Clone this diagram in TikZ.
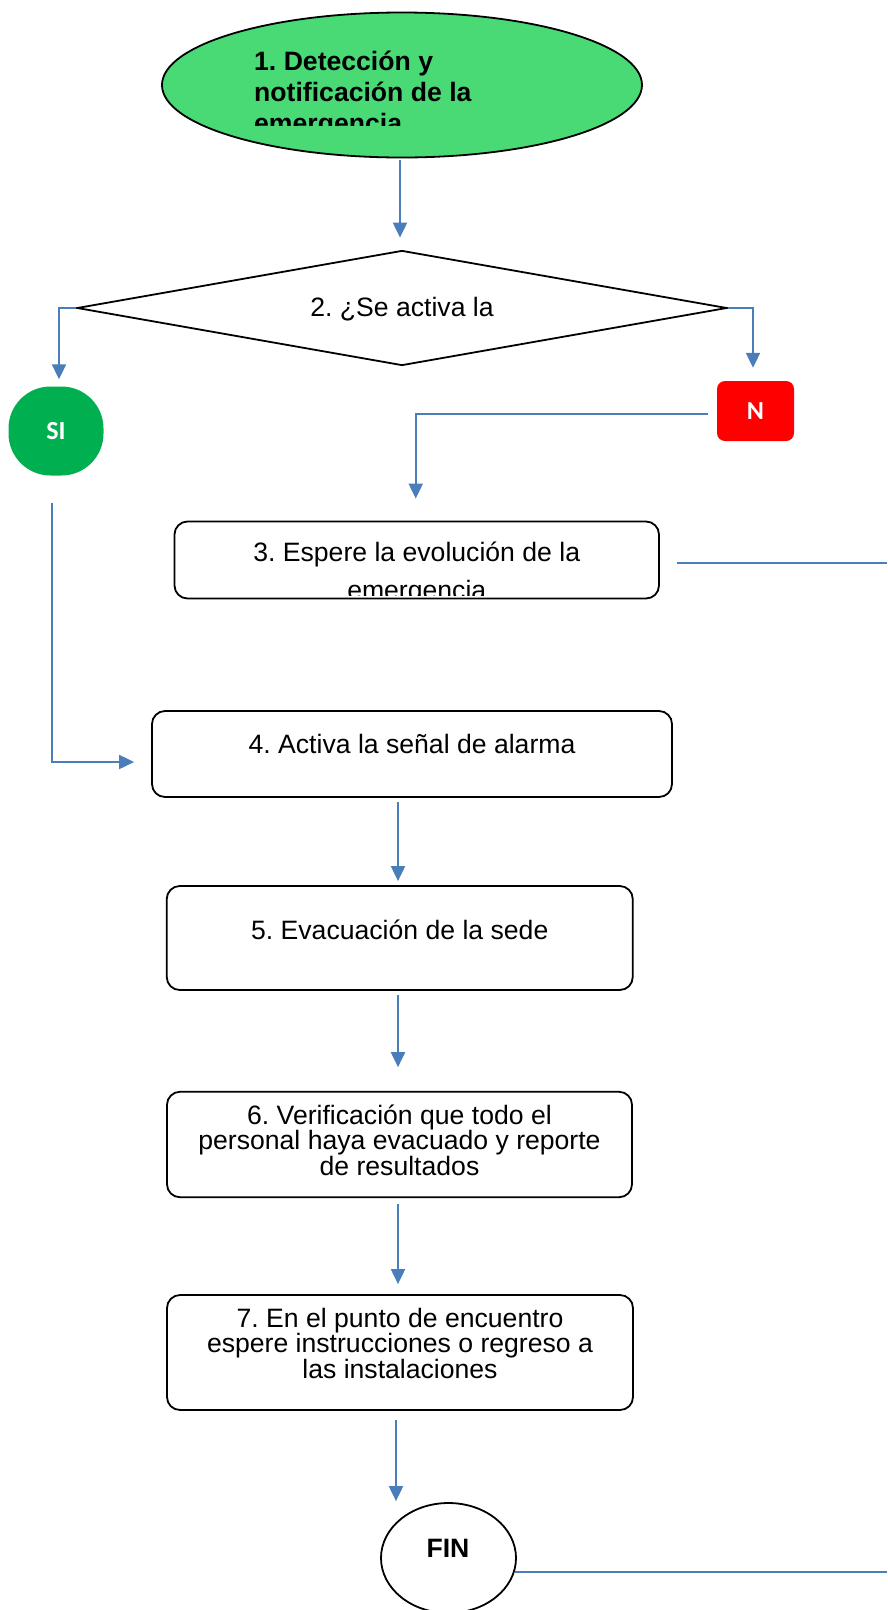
\documentclass[tikz,border=0pt]{standalone}
\usepackage{fontspec}
\setmainfont{Liberation Sans}
\newfontfamily\calib{Carlito}
\usetikzlibrary{shapes.geometric,arrows.meta,calc}
\definecolor{conncol}{RGB}{74,126,187}
\definecolor{startgreen}{RGB}{73,218,117}
\definecolor{sigreen}{RGB}{0,176,80}
\definecolor{nred}{RGB}{255,0,0}
\frenchspacing
\tikzset{
  box/.style={draw=black, line width=1.8pt, rounded corners=13pt, inner sep=0pt},
  conn/.style={draw=conncol, line width=2pt, -{Triangle[length=15pt,width=14pt]}},
  plainline/.style={draw=conncol, line width=2pt},
  txt/.style={inner sep=0pt, font=\fontsize{26.6pt}{23.3pt}\selectfont, align=center},
  badge/.style={inner sep=0pt, text=white, font=\calib\bfseries\fontsize{26pt}{28pt}\selectfont},
}
\begin{document}
\begin{tikzpicture}[x=1pt,y=-1pt]
\useasboundingbox (0,0) rectangle (887,1610);
% 1. start ellipse
\node[ellipse, draw=black, line width=1.8pt, fill=startgreen, minimum width=480pt, minimum height=145pt, inner sep=0pt] (e1) at (402,85) {};
\begin{scope}
\clip (240,30) rectangle (500,125);
\node[inner sep=0pt, anchor=base west, align=left, font=\bfseries\fontsize{26.6pt}{31pt}\selectfont] (t1) at (254,132) {1. Detección y\\notificación de la\\emergencia};
\end{scope}
% 2. decision
\node[diamond, draw=black, line width=1.8pt, minimum width=650pt, minimum height=115pt, inner sep=0pt, aspect=5.65] (d2) at (402,308) {};
\node[txt, anchor=base] (t2) at (402,316) {2. ¿Se activa la};
% SI / N
\node[badge, fill=sigreen, rounded corners=42pt, minimum width=95pt, minimum height=89pt] (si) at (56,431) {SI};
\node[badge, fill=nred, rounded corners=8pt, minimum width=77pt, minimum height=60pt] (n) at (755.5,411) {N};
% 3
\node[box, minimum width=484.5pt, minimum height=77pt] (b3) at (416.75,560) {};
\begin{scope}
\clip (180,525) rectangle (655,595.5);
\node[txt, anchor=base, font=\fontsize{26.6pt}{38pt}\selectfont] (t3) at (416.75,599) {3. Espere la evolución de la\\emergencia};
\end{scope}
% 4
\node[box, minimum width=520pt, minimum height=86pt] (b4) at (412,754) {};
\node[txt, anchor=base] (t4) at (412,753) {4. Activa la señal de alarma};
% 5
\node[box, minimum width=466pt, minimum height=104pt] (b5) at (399.75,938) {};
\node[txt, anchor=base] (t5) at (399.75,939.7) {5. Evacuación de la sede};
% 6
\node[box, minimum width=465pt, minimum height=105.5pt] (b6) at (399.5,1144.5) {};
\node[txt, anchor=base] (t6) at (399.5,1175.6) {6. Verificación que todo el\\personal haya evacuado y reporte\\de resultados};
% 7
\node[box, minimum width=466pt, minimum height=115pt] (b7) at (400,1352.5) {};
\node[txt, anchor=base] (t7) at (400,1378.7) {7. En el punto de encuentro\\espere instrucciones o regreso a\\las instalaciones};
% FIN
\node[ellipse, draw=black, line width=1.8pt, minimum width=135pt, minimum height=110pt, inner sep=0pt] (fin) at (448.5,1558) {};
\node[inner sep=0pt, anchor=base, font=\bfseries\fontsize{26.6pt}{30pt}\selectfont] (tfin) at (448,1557) {FIN};
% free ends
\coordinate (start3) at ($(b3.east)+(17,3.3)$);
\coordinate (exit3) at (887,563.3);
\coordinate (exitF) at (887,1572);
% connectors
\draw[conn] ($(e1.south)+(-2,2)$) -- ($(d2.north)+(-2,-12)$);
\draw[conn] (d2.west) -| ($(si.north)+(3,-7)$);
\draw[conn] (d2.east) -| ($(n.north)+(-2.5,-13)$);
\draw[conn] ($(n.west)+(-9,3)$) -| ($(b3.north)+(-1,-22)$);
\draw[conn] ($(si.south)+(-4,27)$) |- ($(b4.west)+(-17,8)$);
\draw[plainline] (start3) -- (exit3);
\draw[conn] ($(b4.south)+(-14,4)$) -- ($(b5.north)+(-1.75,-4)$);
\draw[conn] ($(b5.south)+(-1.75,4)$) -- ($(b6.north)+(-1.5,-23.7)$);
\draw[conn] ($(b6.south)+(-1.5,6)$) -- ($(b7.north)+(-2,-10)$);
\draw[conn] ($(b7.south)+(-4,9)$) -- ($(fin.north)+(-52.5,-1)$);
\draw[plainline] (fin.-12) -- (fin.-12 -| exitF);
\end{tikzpicture}
\end{document}
